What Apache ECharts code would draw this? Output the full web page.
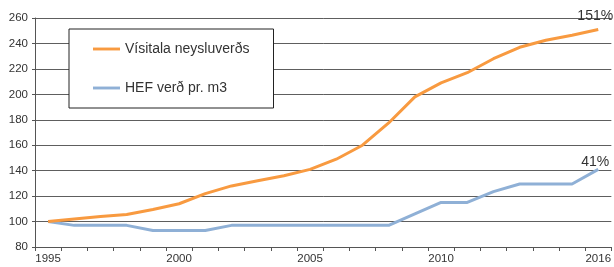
<!DOCTYPE html>
<html>
<head>
<meta charset="utf-8">
<script src="https://cdn.jsdelivr.net/npm/echarts@6/dist/echarts.min.js"></script>
<style>
  html, body { margin: 0; padding: 0; background: #fff; }
  #chart { width: 614px; height: 267px; }
</style>
</head>
<body>
<div id="chart"></div>
<script>
const years = ['1995','1996','1997','1998','1999','2000','2001','2002','2003','2004','2005',
  '2006','2007','2008','2009','2010','2011','2012','2013','2014','2015','2016']
const shownYears = ['1995', '2000', '2005', '2010', '2016']
const cpiName = 'Vísitala neysluverðs'
const cpi = [100, 102, 104, 105.5, 109.5, 114, 122, 128, 132, 136, 141,
  149, 160, 177.5, 198, 209, 217, 228, 237, 242.5, 246.5, 251]
const hefName = 'HEF verð pr. m3'
const hef = [100, 97, 97, 97, 93, 93, 93, 97, 97, 97, 97,
  97, 97, 97, 106, 115, 115, 123.5, 129.5, 129.5, 129.5, 141]
const yTicks = [80, 100, 120, 140, 160, 180, 200, 220, 240, 260]

const font = 'Liberation Sans, Arial, sans-serif'

// last point gets the growth label
function withEndLabel(arr, dist) {
  return arr.map((v, i) => {
    if (i < arr.length - 1) return v
    return {
      value: v,
      label: {
        show: true,
        position: 'top',
        distance: dist,
        offset: [-3, 0],
        formatter: Math.round(v - arr[0]) + '%',
        fontFamily: font,
        fontSize: 14,
        color: '#333',
      },
    }
  })
}

let myChart = echarts.init(document.getElementById('chart'))
myChart.setOption({
  animation: false,
  textStyle: { fontFamily: font },
  legend: {
    orient: 'vertical',
    left: 69,
    top: 29,
    padding: [13, 24, 13, 24],
    itemGap: 25,
    itemWidth: 27,
    itemHeight: 14,
    backgroundColor: '#fff',
    borderColor: '#222',
    borderWidth: 1,
    textStyle: { fontSize: 14, color: '#333', fontFamily: font },
    data: [
      { name: cpiName, icon: 'path://M0,0 L28,0 L28,3 L0,3 Z' },
      { name: hefName, icon: 'path://M0,0 L28,0 L28,3 L0,3 Z' },
    ],
  },
  grid: {
    left: 35,
    right: 1,
    top: 18,
    bottom: 20,
    containLabel: false,
  },
  xAxis: {
    type: 'category',
    boundaryGap: true,
    data: years,
    axisLine: { lineStyle: { color: '#555', width: 1 } },
    axisTick: { show: true, interval: 0, length: 4, lineStyle: { color: '#555' } },
    axisLabel: {
      interval: (i, v) => shownYears.includes(v),
      margin: 6,
      fontSize: 11.5,
      color: '#333',
      fontFamily: font,
    },
  },
  yAxis: {
    type: 'value',
    min: yTicks[0],
    max: yTicks[yTicks.length - 1],
    interval: 20,
    axisLine: { show: true, lineStyle: { color: '#555', width: 1 } },
    axisTick: { show: true, length: 3, lineStyle: { color: '#555' } },
    splitLine: { lineStyle: { color: '#5e5e5e', width: 1 } },
    axisLabel: {
      margin: 7,
      fontSize: 11.5,
      color: '#333',
      fontFamily: font,
    },
  },
  series: [
    {
      name: cpiName,
      type: 'line',
      data: withEndLabel(cpi, 6),
      symbol: 'circle',
      symbolSize: 0,
      color: '#f89a40',
      lineStyle: { width: 3, color: '#f89a40' },
      z: 3,
    },
    {
      name: hefName,
      type: 'line',
      data: withEndLabel(hef, 0),
      symbol: 'circle',
      symbolSize: 0,
      color: '#8fb0d6',
      lineStyle: { width: 3, color: '#8fb0d6' },
      z: 2,
    },
  ],
})
</script>
</body>
</html>
